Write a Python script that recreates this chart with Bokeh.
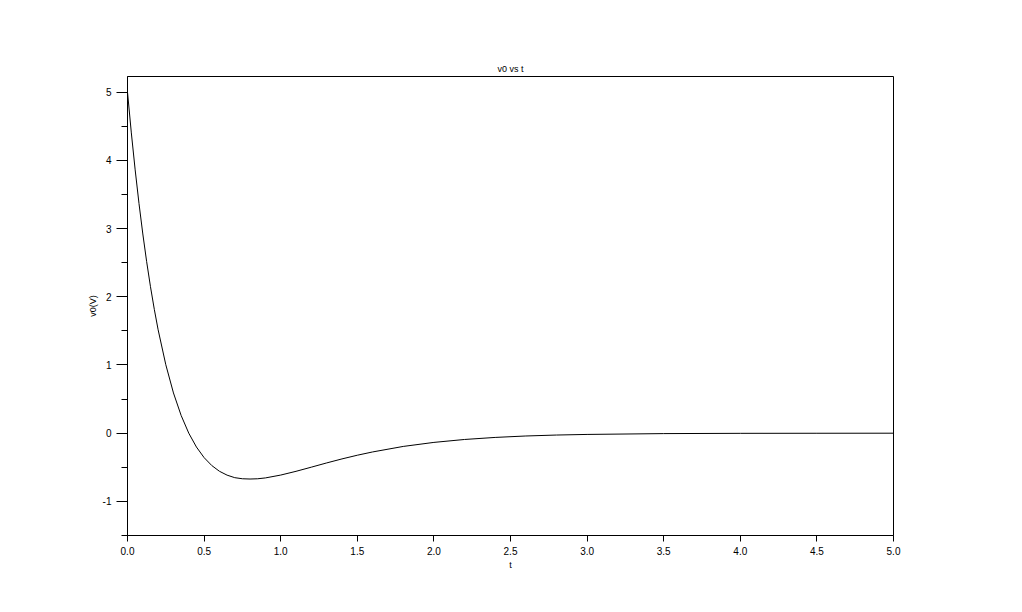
from bokeh.plotting import figure
from bokeh.models import FixedTicker, Range1d, CustomJSTickFormatter
from bokeh.embed import file_html
from bokeh.resources import INLINE

# Values
t = [0.0, 0.025, 0.05, 0.075, 0.1, 0.125, 0.15, 0.175, 0.2, 0.25, 0.3, 0.35, 0.4,
     0.45, 0.5, 0.55, 0.6, 0.65, 0.7, 0.75, 0.8, 0.85, 0.9, 1.0, 1.1, 1.2, 1.3,
     1.4, 1.5, 1.6, 1.8, 2.0, 2.2, 2.4, 2.6, 2.8, 3.0, 3.5, 4.0, 4.5, 5.0]
v0 = [5.0, 4.403, 3.861, 3.368, 2.921, 2.515, 2.148, 1.816, 1.516, 1.004, 0.590,
      0.261, 0.0, -0.203, -0.358, -0.474, -0.558, -0.615, -0.652, -0.668, -0.672,
      -0.668, -0.656, -0.614, -0.559, -0.498, -0.436, -0.377, -0.323, -0.275,
      -0.194, -0.135, -0.092, -0.062, -0.041, -0.027, -0.018, -0.006, -0.002,
      -0.001, 0.0]

x_ticks = [0.0, 0.5, 1.0, 1.5, 2.0, 2.5, 3.0, 3.5, 4.0, 4.5, 5.0]
y_ticks = [-1, 0, 1, 2, 3, 4, 5]
y_minor = [-1.5, -0.5, 0.5, 1.5, 2.5, 3.5, 4.5]

FONT = "Liberation Sans"

p = figure(width=1014, height=604, output_backend="svg", toolbar_location=None,
           x_range=Range1d(0, 5), y_range=Range1d(-1.5, 5.23),
           min_border_left=127, min_border_right=121,
           min_border_top=76, min_border_bottom=69,
           title="v0 vs t")

p.line(t, v0, line_color="black", line_width=1)

p.title.align = "center"
p.title.text_font = FONT
p.title.text_font_size = "9px"
p.title.text_font_style = "normal"
p.title.text_color = "black"
p.title.offset = 0
p.title.standoff = 5

p.xgrid.visible = False
p.ygrid.visible = False
p.outline_line_color = "black"
p.outline_line_width = 1
p.outline_line_alpha = 1
p.background_fill_color = "white"
p.border_fill_color = "white"

xa = p.xaxis[0]
xa.ticker = FixedTicker(ticks=x_ticks, minor_ticks=[])
xa.formatter = CustomJSTickFormatter(code="return tick.toFixed(1);")
xa.axis_label = "t"
xa.major_tick_out = 6
xa.major_tick_in = 0
xa.minor_tick_out = 0
xa.minor_tick_in = 0

ya = p.yaxis[0]
ya.ticker = FixedTicker(ticks=y_ticks, minor_ticks=y_minor)
ya.formatter = CustomJSTickFormatter(code="return tick.toFixed(0);")
ya.axis_label = "v0(V)"
ya.major_tick_out = 11
ya.major_tick_in = 0
ya.minor_tick_out = 6
ya.minor_tick_in = 0

for ax in (xa, ya):
    ax.axis_line_color = "black"
    ax.major_tick_line_color = "black"
    ax.minor_tick_line_color = "black"
    ax.major_label_text_font = FONT
    ax.major_label_text_font_size = "10px"
    ax.major_label_text_color = "black"
    ax.axis_label_text_font = FONT
    ax.axis_label_text_font_size = "9px"
    ax.axis_label_text_font_style = "normal"
    ax.axis_label_text_color = "black"
    ax.major_label_standoff = 5
    ax.axis_label_standoff = 2

open("out.html", "w").write(file_html(p, INLINE))
